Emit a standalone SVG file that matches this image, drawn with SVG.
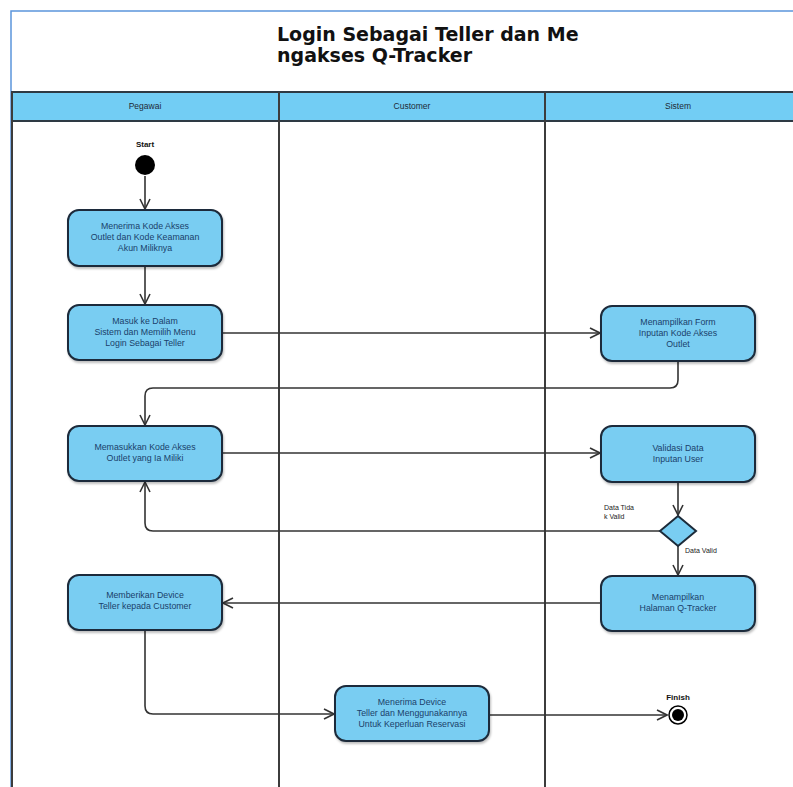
<svg xmlns="http://www.w3.org/2000/svg" width="793" height="787" viewBox="0 0 793 787">
<style>
.frame{fill:#ffffff;stroke:#5b95dc;stroke-width:1.5}
.hdr{fill:#72cdf4;stroke:#2e3a44;stroke-width:2}
.lane{fill:none;stroke:#3c3c3c;stroke-width:2}
.hdrtxt{font-family:"Liberation Sans",Arial,sans-serif;font-size:8.5px;fill:#1e2a36;text-anchor:middle}
.title{font-family:"DejaVu Sans",Verdana,sans-serif;font-size:19px;font-weight:bold;fill:#111}
.act{fill:#79cdf2;stroke:#1c2b3a;stroke-width:2}
.atxt{font-family:"Liberation Sans",Arial,sans-serif;font-size:8.8px;fill:#1a3f6a;text-anchor:middle}
.lbl{font-family:"Liberation Sans",Arial,sans-serif;font-size:7px;fill:#222}
.slbl{font-family:"Liberation Sans",Arial,sans-serif;font-size:8px;font-weight:bold;fill:#111;text-anchor:middle}
.conn{fill:none;stroke:#333333;stroke-width:1.6}
</style>
<defs>
<marker id="arr" viewBox="0 0 12 12" refX="11" refY="6" markerWidth="12" markerHeight="12" markerUnits="userSpaceOnUse" orient="auto">
<path d="M1,1 L11,6 L1,11" fill="none" stroke="#333333" stroke-width="1.6"/>
</marker>
<filter id="sh" x="-10%" y="-10%" width="130%" height="140%">
<feDropShadow dx="1" dy="2" stdDeviation="1.2" flood-color="#000" flood-opacity="0.25"/>
</filter>
</defs>
<rect x="0" y="0" width="793" height="787" fill="#ffffff"/>
<g id="frame">
<rect class="frame" x="11" y="11" width="800" height="800"/>
<text class="title" x="277" y="41">Login Sebagai Teller dan Me</text>
<text class="title" x="277" y="62">ngakses Q-Tracker</text>
</g>
<g id="lanes">
<rect class="hdr" x="12" y="92" width="800" height="29"/>
<line class="lane" x1="12" y1="92" x2="12" y2="787"/>
<line class="lane" x1="279" y1="92" x2="279" y2="787"/>
<line class="lane" x1="545" y1="92" x2="545" y2="787"/>
<text class="hdrtxt" x="145" y="109">Pegawai</text>
<text class="hdrtxt" x="412" y="109">Customer</text>
<text class="hdrtxt" x="678" y="109">Sistem</text>
</g>
<g id="connectors">
<path class="conn" d="M145,176 L145,209" marker-end="url(#arr)"/>
<path class="conn" d="M145,266 L145,304" marker-end="url(#arr)"/>
<path class="conn" d="M222,333 L600,333" marker-end="url(#arr)"/>
<path class="conn" d="M678,361 L678,380 Q678,388 670,388 L153,388 Q145,388 145,396 L145,425" marker-end="url(#arr)"/>
<path class="conn" d="M222,453 L600,453" marker-end="url(#arr)"/>
<path class="conn" d="M678,482 L678,515" marker-end="url(#arr)"/>
<path class="conn" d="M660,531 L153,531 Q145,531 145,523 L145,482" marker-end="url(#arr)"/>
<path class="conn" d="M678,546 L678,575" marker-end="url(#arr)"/>
<path class="conn" d="M601,603 L223,603" marker-end="url(#arr)"/>
<path class="conn" d="M145,630 L145,706 Q145,714 153,714 L334,714" marker-end="url(#arr)"/>
<path class="conn" d="M489,715 L667,715" marker-end="url(#arr)"/>
<text class="lbl" x="604" y="510">Data Tida</text>
<text class="lbl" x="604" y="519">k Valid</text>
<text class="lbl" x="685" y="553">Data Valid</text>
</g>
<g id="start">
<text class="slbl" x="145" y="147">Start</text>
<circle cx="145" cy="165" r="10" fill="#000"/>
</g>
<g id="n1">
<rect class="act" filter="url(#sh)" x="68" y="210" width="154" height="56" rx="11"/>
<text class="atxt" x="145" y="229">Menerima Kode Akses</text>
<text class="atxt" x="145" y="240">Outlet dan Kode Keamanan</text>
<text class="atxt" x="145" y="251">Akun Miliknya</text>
</g>
<g id="n2">
<rect class="act" filter="url(#sh)" x="68" y="305" width="154" height="55" rx="11"/>
<text class="atxt" x="145" y="324">Masuk ke Dalam</text>
<text class="atxt" x="145" y="335">Sistem dan Memilih Menu</text>
<text class="atxt" x="145" y="346">Login Sebagai Teller</text>
</g>
<g id="n3">
<rect class="act" filter="url(#sh)" x="601" y="306" width="154" height="55" rx="11"/>
<text class="atxt" x="678" y="325">Menampilkan Form</text>
<text class="atxt" x="678" y="336">Inputan Kode Akses</text>
<text class="atxt" x="678" y="347">Outlet</text>
</g>
<g id="n4">
<rect class="act" filter="url(#sh)" x="68" y="426" width="154" height="55" rx="11"/>
<text class="atxt" x="145" y="450">Memasukkan Kode Akses</text>
<text class="atxt" x="145" y="461">Outlet yang Ia Miliki</text>
</g>
<g id="n5">
<rect class="act" filter="url(#sh)" x="601" y="426" width="154" height="56" rx="11"/>
<text class="atxt" x="678" y="451">Validasi Data</text>
<text class="atxt" x="678" y="462">Inputan User</text>
</g>
<g id="decision">
<polygon class="act" points="678,516 696,531 678,546 660,531"/>
</g>
<g id="n6">
<rect class="act" filter="url(#sh)" x="601" y="576" width="154" height="55" rx="11"/>
<text class="atxt" x="678" y="600">Menampilkan</text>
<text class="atxt" x="678" y="611">Halaman Q-Tracker</text>
</g>
<g id="n7">
<rect class="act" filter="url(#sh)" x="68" y="575" width="154" height="55" rx="11"/>
<text class="atxt" x="145" y="598">Memberikan Device</text>
<text class="atxt" x="145" y="609">Teller kepada Customer</text>
</g>
<g id="n8">
<rect class="act" filter="url(#sh)" x="335" y="686" width="154" height="55" rx="11"/>
<text class="atxt" x="412" y="705">Menerima Device</text>
<text class="atxt" x="412" y="716">Teller dan Menggunakannya</text>
<text class="atxt" x="412" y="727">Untuk Keperluan Reservasi</text>
</g>
<g id="finish">
<text class="slbl" x="678" y="700">Finish</text>
<circle cx="678" cy="715" r="9" fill="#fff" stroke="#000" stroke-width="1.5"/>
<circle cx="678" cy="715" r="6" fill="#000"/>
</g>
</svg>
